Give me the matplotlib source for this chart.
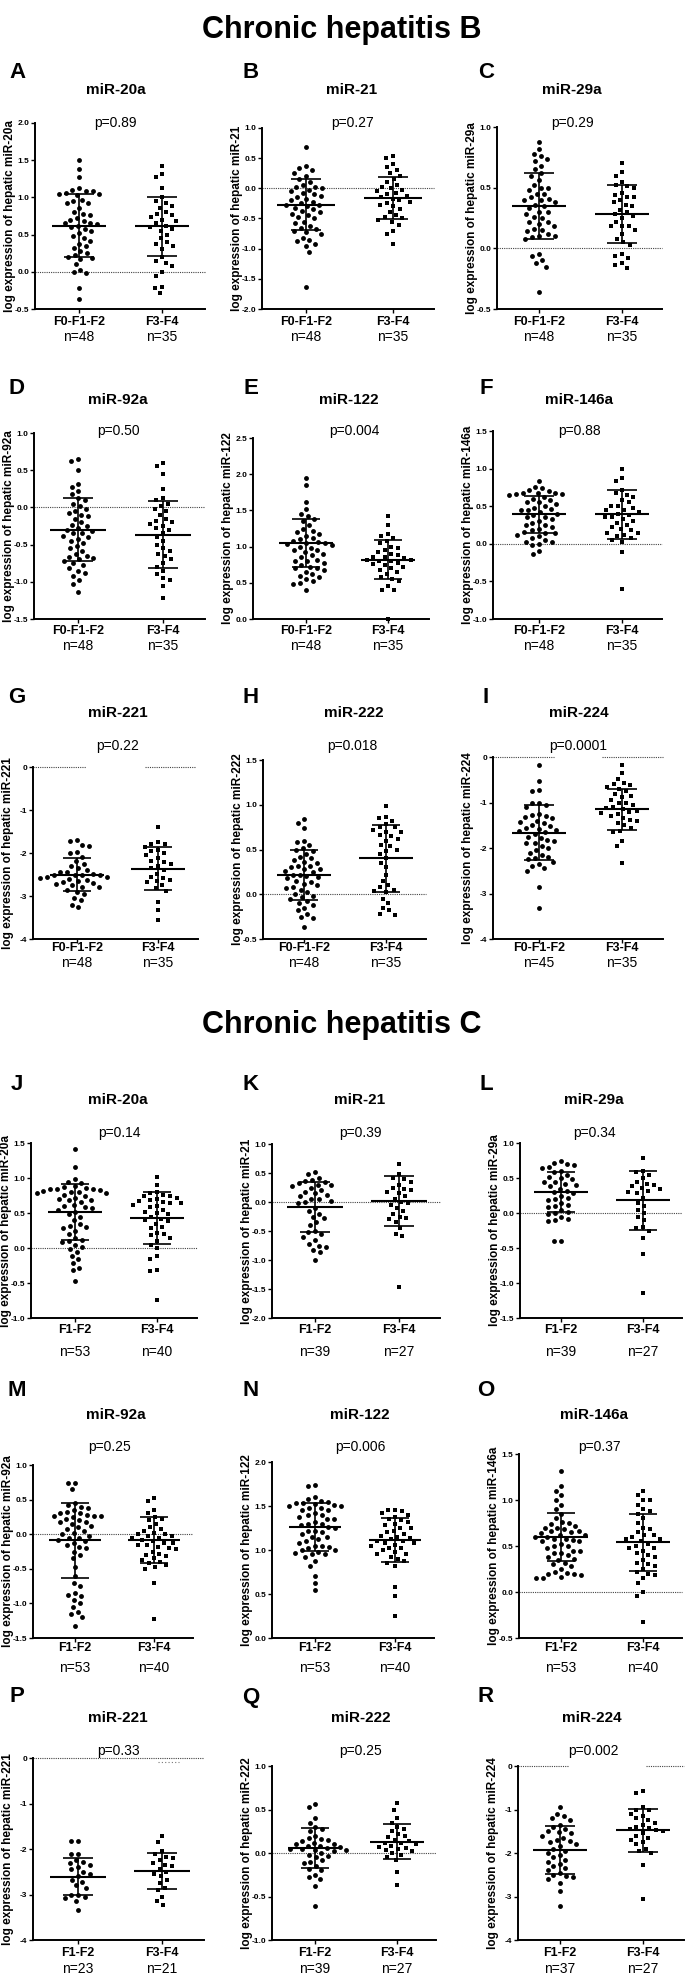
import numpy as np
import matplotlib
matplotlib.use('Agg')
import matplotlib.pyplot as plt

W, H, DPI = 685, 1976, 100

NARROW = ['Liberation Sans Narrow', 'Liberation Sans', 'DejaVu Sans']
REG = ['Liberation Sans', 'DejaVu Sans']

# ---------------- data ----------------
section_titles = ['Chronic hepatitis B', 'Chronic hepatitis C']
panel_letters = list("ABCDEFGHIJKLMNOPQR")
mirnas = ['miR-20a', 'miR-21', 'miR-29a', 'miR-92a', 'miR-122', 'miR-146a',
          'miR-221', 'miR-222', 'miR-224',
          'miR-20a', 'miR-21', 'miR-29a', 'miR-92a', 'miR-122', 'miR-146a',
          'miR-221', 'miR-222', 'miR-224']
p_values = ['p=0.89', 'p=0.27', 'p=0.29', 'p=0.50', 'p=0.004', 'p=0.88',
            'p=0.22', 'p=0.018', 'p=0.0001',
            'p=0.14', 'p=0.39', 'p=0.34', 'p=0.25', 'p=0.006', 'p=0.37',
            'p=0.33', 'p=0.25', 'p=0.002']
groups_hbv = ['F0-F1-F2', 'F3-F4']
groups_hcv = ['F1-F2', 'F3-F4']
n_low = ['n=48'] * 8 + ['n=45', 'n=53', 'n=39', 'n=39', 'n=53', 'n=53', 'n=53', 'n=23', 'n=39', 'n=37']
n_high = ['n=35'] * 9 + ['n=40', 'n=27', 'n=27', 'n=40', 'n=40', 'n=40', 'n=21', 'n=27', 'n=27']
y_min = [-0.5, -2.0, -0.5, -1.5, 0.0, -1.0, -4, -0.5, -4,
         -1.0, -2.0, -1.5, -1.5, 0.0, -0.5, -4, -1.0, -4]
y_max = [2.0, 1.0, 1.0, 1.0, 2.5, 1.5, 0, 1.5, 0,
         1.5, 1.0, 1.0, 1.0, 2.0, 1.5, 0, 1.0, 0]
y_step = [0.5] * 6 + [1, 0.5, 1] + [0.5] * 6 + [1, 0.5, 1]

means_low = [0.62, -0.27, 0.35, -0.30, 1.05, 0.39, -2.50, 0.22, -1.66,
             0.52, -0.08, 0.30, -0.09, 1.26, 0.60, -2.61, 0.06, -1.93]
sd_low = [0.42, 0.42, 0.27, 0.42, 0.33, 0.25, 0.38, 0.28, 0.61,
          0.40, 0.43, 0.29, 0.54, 0.27, 0.26, 0.41, 0.23, 0.56]
means_high = [0.61, -0.16, 0.28, -0.37, 0.82, 0.39, -2.37, 0.40, -1.15,
              0.43, 0.01, 0.18, -0.08, 1.11, 0.54, -2.48, 0.13, -1.48]
sd_high = [0.40, 0.35, 0.24, 0.45, 0.27, 0.33, 0.50, 0.37, 0.45,
           0.37, 0.43, 0.42, 0.33, 0.25, 0.31, 0.40, 0.20, 0.50]

A_low = [1.50, 1.38, 1.28, 1.12, 1.10, 1.09, 1.08, 1.06, 1.05, 1.04, 1.03, 0.96, 0.95, 0.93, 0.92, 0.86,
         0.80, 0.78, 0.76, 0.72, 0.70, 0.68, 0.66, 0.65, 0.64, 0.62, 0.60, 0.58, 0.55, 0.52, 0.48, 0.45,
         0.42, 0.38, 0.35, 0.32, 0.28, 0.25, 0.22, 0.20, 0.19, 0.17, 0.10, 0.03, 0.00, -0.02, -0.22, -0.36]
A_high = [1.42, 1.32, 1.27, 1.12, 1.00, 0.95, 0.92, 0.88, 0.86, 0.80, 0.78, 0.76, 0.73, 0.70, 0.68, 0.65,
          0.62, 0.60, 0.58, 0.55, 0.50, 0.45, 0.40, 0.38, 0.35, 0.30, 0.20, 0.15, 0.12, 0.08, 0.00, -0.05,
          -0.20, -0.22, -0.29]
B_low = [0.68, 0.37, 0.33, 0.30, 0.26, 0.20, 0.16, 0.10, 0.05, 0.03, 0.02, 0.00, -0.02, -0.05, -0.08, -0.10,
         -0.12, -0.15, -0.18, -0.20, -0.22, -0.25, -0.27, -0.28, -0.30, -0.32, -0.35, -0.38, -0.40, -0.42,
         -0.45, -0.48, -0.50, -0.55, -0.58, -0.62, -0.65, -0.68, -0.70, -0.72, -0.75, -0.82, -0.85, -0.88,
         -0.92, -0.95, -1.05, -1.64]
B_high = [0.53, 0.50, 0.40, 0.35, 0.30, 0.25, 0.20, 0.15, 0.10, 0.05, 0.03, 0.00, -0.03, -0.05, -0.08, -0.10,
          -0.12, -0.15, -0.18, -0.20, -0.22, -0.25, -0.28, -0.30, -0.35, -0.40, -0.45, -0.48, -0.50, -0.52,
          -0.55, -0.60, -0.70, -0.75, -0.92]
C_low = [0.88, 0.82, 0.78, 0.76, 0.74, 0.72, 0.68, 0.65, 0.62, 0.60, 0.56, 0.52, 0.50, 0.50, 0.48, 0.45,
         0.45, 0.42, 0.41, 0.40, 0.40, 0.38, 0.36, 0.35, 0.33, 0.30, 0.30, 0.28, 0.26, 0.25, 0.22, 0.22,
         0.20, 0.18, 0.16, 0.15, 0.14, 0.12, 0.10, 0.10, 0.09, 0.08, -0.05, -0.06, -0.10, -0.12, -0.15, -0.36]
C_high = [0.70, 0.63, 0.60, 0.55, 0.52, 0.51, 0.50, 0.46, 0.44, 0.42, 0.42, 0.40, 0.38, 0.36, 0.35, 0.32,
          0.30, 0.28, 0.27, 0.25, 0.22, 0.18, 0.18, 0.18, 0.15, 0.12, 0.08, 0.05, 0.03, -0.05, -0.06, -0.08,
          -0.12, -0.14, -0.16]
D_low = [0.65, 0.63, 0.50, 0.32, 0.28, 0.22, 0.18, 0.12, 0.10, 0.05, 0.02, -0.02, -0.05, -0.08, -0.10, -0.12,
         -0.15, -0.20, -0.23, -0.25, -0.28, -0.30, -0.32, -0.35, -0.35, -0.38, -0.40, -0.42, -0.45, -0.48,
         -0.52, -0.55, -0.58, -0.62, -0.65, -0.66, -0.68, -0.70, -0.72, -0.75, -0.78, -0.82, -0.85, -0.88,
         -0.92, -0.98, -1.03, -1.14]
D_high = [0.60, 0.55, 0.45, 0.25, 0.12, 0.10, 0.05, 0.02, -0.02, -0.05, -0.10, -0.15, -0.18, -0.20, -0.22,
          -0.25, -0.28, -0.30, -0.35, -0.40, -0.45, -0.50, -0.55, -0.58, -0.62, -0.65, -0.70, -0.75, -0.80,
          -0.85, -0.90, -0.95, -0.98, -1.05, -1.22]
E_low = [1.95, 1.85, 1.62, 1.52, 1.45, 1.42, 1.38, 1.35, 1.30, 1.25, 1.22, 1.20, 1.18, 1.15, 1.12, 1.10,
         1.08, 1.06, 1.05, 1.05, 1.04, 1.02, 1.00, 0.98, 0.95, 0.95, 0.92, 0.90, 0.88, 0.85, 0.82, 0.80,
         0.80, 0.78, 0.75, 0.72, 0.70, 0.70, 0.68, 0.65, 0.62, 0.60, 0.58, 0.55, 0.52, 0.50, 0.48, 0.40]
E_high = [1.42, 1.30, 1.18, 1.15, 1.12, 1.08, 1.05, 1.00, 0.98, 0.95, 0.92, 0.90, 0.88, 0.86, 0.85, 0.84,
          0.82, 0.82, 0.80, 0.80, 0.78, 0.76, 0.75, 0.72, 0.70, 0.68, 0.65, 0.62, 0.58, 0.55, 0.52, 0.45,
          0.40, 0.40, 0.00]
F_low = [0.84, 0.76, 0.74, 0.72, 0.70, 0.68, 0.67, 0.67, 0.66, 0.66, 0.65, 0.62, 0.60, 0.58, 0.55, 0.55,
         0.53, 0.50, 0.48, 0.46, 0.45, 0.45, 0.42, 0.40, 0.38, 0.36, 0.35, 0.33, 0.30, 0.28, 0.25, 0.25,
         0.22, 0.20, 0.18, 0.16, 0.15, 0.14, 0.12, 0.10, 0.08, 0.05, 0.03, 0.02, 0.00, -0.02, -0.10, -0.14]
F_high = [1.00, 0.88, 0.84, 0.72, 0.68, 0.65, 0.62, 0.58, 0.55, 0.50, 0.50, 0.48, 0.45, 0.45, 0.42, 0.40,
          0.38, 0.36, 0.35, 0.33, 0.30, 0.28, 0.25, 0.22, 0.20, 0.18, 0.15, 0.15, 0.12, 0.10, 0.08, 0.05,
          0.02, -0.11, -0.60]
G_low = [-1.70, -1.73, -1.82, -1.84, -1.98, -2.00, -2.10, -2.18, -2.25, -2.30, -2.35, -2.40, -2.44, -2.45,
         -2.48, -2.50, -2.50, -2.52, -2.52, -2.55, -2.55, -2.58, -2.60, -2.62, -2.65, -2.68, -2.70, -2.72,
         -2.75, -2.78, -2.80, -2.85, -2.90, -2.95, -3.05, -3.10, -3.20, -3.25]
G_high = [-1.40, -1.75, -1.78, -1.80, -1.85, -1.92, -1.95, -2.00, -2.05, -2.12, -2.18, -2.20, -2.25, -2.30,
          -2.35, -2.40, -2.48, -2.55, -2.58, -2.62, -2.65, -2.68, -2.75, -2.82, -2.88, -3.15, -3.32, -3.55]
H_low = [0.84, 0.80, 0.74, 0.60, 0.58, 0.55, 0.52, 0.50, 0.48, 0.45, 0.42, 0.40, 0.38, 0.36, 0.35, 0.32,
         0.32, 0.30, 0.28, 0.28, 0.26, 0.25, 0.22, 0.22, 0.20, 0.19, 0.18, 0.15, 0.14, 0.12, 0.10, 0.08,
         0.07, 0.05, 0.02, 0.00, -0.02, -0.03, -0.05, -0.08, -0.10, -0.12, -0.15, -0.18, -0.22, -0.25,
         -0.26, -0.37]
H_high = [0.99, 0.86, 0.85, 0.82, 0.78, 0.75, 0.75, 0.72, 0.70, 0.70, 0.66, 0.65, 0.62, 0.60, 0.55, 0.54,
          0.50, 0.48, 0.45, 0.40, 0.35, 0.30, 0.22, 0.15, 0.10, 0.08, 0.05, 0.04, 0.02, -0.05, -0.10, -0.15,
          -0.18, -0.22, -0.23]
I_low = [-0.17, -0.52, -0.73, -0.75, -1.00, -1.02, -1.05, -1.10, -1.25, -1.27, -1.30, -1.32, -1.35, -1.40,
         -1.42, -1.45, -1.50, -1.52, -1.55, -1.58, -1.60, -1.62, -1.65, -1.70, -1.75, -1.78, -1.82, -1.85,
         -1.88, -1.90, -1.95, -2.00, -2.05, -2.10, -2.15, -2.20, -2.22, -2.25, -2.30, -2.35, -2.40, -2.45,
         -2.50, -2.85, -3.32]
I_high = [-0.17, -0.35, -0.48, -0.58, -0.60, -0.62, -0.65, -0.70, -0.75, -0.82, -0.85, -0.88, -0.95, -1.00,
          -1.02, -1.05, -1.10, -1.12, -1.15, -1.18, -1.20, -1.22, -1.25, -1.30, -1.35, -1.38, -1.40, -1.45,
          -1.50, -1.55, -1.62, -1.65, -1.85, -1.95, -2.32]
J_low = [1.42, 1.16, 0.98, 0.95, 0.93, 0.88, 0.87, 0.86, 0.85, 0.85, 0.84, 0.83, 0.82, 0.80, 0.80, 0.79,
         0.78, 0.76, 0.75, 0.72, 0.70, 0.69, 0.68, 0.66, 0.62, 0.60, 0.58, 0.57, 0.55, 0.52, 0.48, 0.45,
         0.40, 0.35, 0.32, 0.30, 0.28, 0.25, 0.20, 0.15, 0.12, 0.10, 0.08, 0.05, 0.02, -0.02, -0.05, -0.12,
         -0.15, -0.22, -0.28, -0.32, -0.47]
J_high = [1.02, 0.90, 0.80, 0.78, 0.76, 0.75, 0.74, 0.72, 0.70, 0.68, 0.67, 0.66, 0.65, 0.64, 0.62, 0.60,
          0.58, 0.55, 0.52, 0.50, 0.48, 0.45, 0.42, 0.40, 0.38, 0.35, 0.30, 0.28, 0.22, 0.20, 0.18, 0.15,
          0.10, 0.05, 0.00, -0.12, -0.15, -0.32, -0.33, -0.74]
K_low = [0.52, 0.48, 0.42, 0.38, 0.36, 0.35, 0.33, 0.30, 0.30, 0.28, 0.25, 0.20, 0.18, 0.15, 0.12, 0.10,
         0.05, 0.05, 0.02, 0.00, -0.02, -0.10, -0.15, -0.20, -0.25, -0.28, -0.35, -0.40, -0.50, -0.52,
         -0.55, -0.60, -0.65, -0.72, -0.75, -0.78, -0.82, -0.87, -1.00]
K_high = [0.65, 0.48, 0.42, 0.40, 0.35, 0.30, 0.25, 0.22, 0.20, 0.18, 0.15, 0.10, 0.05, 0.00, -0.02, -0.05,
          -0.10, -0.15, -0.20, -0.25, -0.28, -0.30, -0.35, -0.45, -0.55, -0.58, -1.47]
L_low = [0.74, 0.72, 0.70, 0.68, 0.66, 0.65, 0.60, 0.58, 0.55, 0.52, 0.50, 0.48, 0.45, 0.45, 0.42, 0.40,
         0.38, 0.35, 0.32, 0.30, 0.28, 0.25, 0.22, 0.20, 0.18, 0.15, 0.12, 0.10, 0.08, 0.05, 0.02, 0.00,
         -0.02, -0.05, -0.08, -0.10, -0.12, -0.40, -0.40]
L_high = [0.78, 0.60, 0.58, 0.55, 0.50, 0.45, 0.42, 0.40, 0.38, 0.36, 0.35, 0.32, 0.30, 0.28, 0.22, 0.15,
          0.10, 0.05, 0.00, -0.05, -0.10, -0.20, -0.22, -0.25, -0.35, -0.58, -1.14]
M_low = [0.74, 0.74, 0.65, 0.45, 0.42, 0.40, 0.38, 0.35, 0.32, 0.30, 0.30, 0.28, 0.27, 0.27, 0.26, 0.25,
         0.22, 0.20, 0.18, 0.18, 0.15, 0.12, 0.10, 0.08, 0.05, 0.02, 0.00, -0.02, -0.05, -0.05, -0.08, -0.10,
         -0.12, -0.15, -0.18, -0.20, -0.25, -0.30, -0.35, -0.48, -0.60, -0.70, -0.75, -0.85, -0.88, -0.90,
         -0.95, -1.00, -1.05, -1.12, -1.15, -1.20, -1.33]
M_high = [0.52, 0.48, 0.35, 0.30, 0.25, 0.22, 0.20, 0.15, 0.10, 0.08, 0.05, 0.02, 0.00, 0.00, -0.02, -0.03,
          -0.05, -0.06, -0.08, -0.10, -0.12, -0.12, -0.15, -0.16, -0.18, -0.20, -0.22, -0.25, -0.28, -0.30,
          -0.32, -0.35, -0.38, -0.40, -0.42, -0.45, -0.48, -0.50, -0.70, -1.22]
N_low = [1.74, 1.73, 1.60, 1.58, 1.56, 1.55, 1.53, 1.53, 1.52, 1.51, 1.50, 1.50, 1.48, 1.48, 1.45, 1.45,
         1.42, 1.40, 1.40, 1.38, 1.35, 1.35, 1.32, 1.30, 1.30, 1.28, 1.26, 1.25, 1.22, 1.22, 1.20, 1.18,
         1.15, 1.15, 1.12, 1.10, 1.08, 1.05, 1.05, 1.03, 1.02, 1.00, 1.00, 0.98, 0.97, 0.96, 0.95, 0.92,
         0.88, 0.82, 0.70, 0.62, 0.54]
N_high = [1.46, 1.45, 1.44, 1.42, 1.40, 1.38, 1.35, 1.34, 1.32, 1.30, 1.28, 1.25, 1.25, 1.22, 1.20, 1.18,
          1.16, 1.15, 1.14, 1.12, 1.10, 1.10, 1.08, 1.08, 1.06, 1.05, 1.02, 1.02, 1.00, 0.98, 0.96, 0.95,
          0.92, 0.90, 0.88, 0.85, 0.82, 0.58, 0.48, 0.25]
O_low = [1.32, 1.15, 1.10, 1.05, 1.00, 0.95, 0.90, 0.85, 0.80, 0.76, 0.75, 0.74, 0.72, 0.70, 0.70, 0.68,
         0.66, 0.66, 0.65, 0.64, 0.62, 0.62, 0.60, 0.60, 0.58, 0.58, 0.56, 0.55, 0.55, 0.52, 0.50, 0.50,
         0.48, 0.45, 0.45, 0.42, 0.42, 0.40, 0.38, 0.36, 0.35, 0.32, 0.30, 0.28, 0.25, 0.22, 0.21, 0.20,
         0.20, 0.18, 0.16, 0.15, 0.15]
O_high = [1.10, 1.05, 1.00, 1.00, 0.95, 0.90, 0.88, 0.85, 0.80, 0.75, 0.70, 0.68, 0.65, 0.62, 0.62, 0.60,
          0.58, 0.58, 0.55, 0.52, 0.50, 0.48, 0.48, 0.45, 0.42, 0.40, 0.38, 0.35, 0.32, 0.30, 0.28, 0.25,
          0.22, 0.20, 0.18, 0.15, 0.10, 0.00, -0.04, -0.33]
P_low = [-1.83, -1.83, -2.10, -2.12, -2.25, -2.28, -2.30, -2.35, -2.40, -2.45, -2.50, -2.55, -2.60, -2.68,
         -2.72, -2.80, -2.85, -3.00, -3.02, -3.05, -3.08, -3.15, -3.33]
P_high = [-1.72, -1.85, -2.05, -2.10, -2.18, -2.20, -2.25, -2.30, -2.35, -2.38, -2.45, -2.50, -2.55, -2.60,
          -2.68, -2.75, -2.85, -2.90, -3.05, -3.15, -3.22]
Q_low = [0.56, 0.53, 0.40, 0.35, 0.30, 0.28, 0.25, 0.20, 0.17, 0.16, 0.15, 0.14, 0.12, 0.10, 0.10, 0.08,
         0.08, 0.07, 0.06, 0.05, 0.05, 0.04, 0.03, 0.02, 0.00, -0.02, -0.03, -0.05, -0.08, -0.10, -0.12,
         -0.15, -0.18, -0.20, -0.25, -0.28, -0.30, -0.38, -0.61]
Q_high = [0.57, 0.50, 0.40, 0.35, 0.30, 0.28, 0.25, 0.22, 0.20, 0.18, 0.15, 0.14, 0.12, 0.11, 0.10, 0.08,
          0.07, 0.06, 0.05, 0.03, 0.02, 0.00, -0.02, -0.05, -0.08, -0.22, -0.37]
R_low = [-0.95, -1.10, -1.15, -1.20, -1.25, -1.35, -1.40, -1.45, -1.50, -1.52, -1.55, -1.60, -1.65, -1.70,
         -1.72, -1.75, -1.80, -1.85, -1.90, -1.95, -2.00, -2.05, -2.10, -2.15, -2.20, -2.25, -2.30, -2.35,
         -2.40, -2.45, -2.50, -2.52, -2.55, -2.60, -2.70, -2.88, -3.22]
R_high = [-0.58, -0.62, -0.95, -1.00, -1.02, -1.10, -1.15, -1.20, -1.25, -1.30, -1.35, -1.40, -1.42, -1.45,
          -1.48, -1.50, -1.55, -1.60, -1.65, -1.70, -1.75, -1.80, -1.90, -1.95, -2.00, -2.28, -3.05]

low_series = [A_low, B_low, C_low, D_low, E_low, F_low, G_low, H_low, I_low,
              J_low, K_low, L_low, M_low, N_low, O_low, P_low, Q_low, R_low]
high_series = [A_high, B_high, C_high, D_high, E_high, F_high, G_high, H_high, I_high,
               J_high, K_high, L_high, M_high, N_high, O_high, P_high, Q_high, R_high]

# ---------------- layout (pixels) ----------------
# left, right, top, bottom, category-1 x, category-2 x
axes_px = [
    (35, 205, 123, 309, 79, 162), (262, 434, 128, 309, 306, 393), (497, 662, 127, 309, 539, 622),
    (34, 205, 433, 619, 78, 163), (253, 429, 438, 619, 306, 388), (493, 662, 431, 619, 539, 622),
    (33, 198, 767, 939, 77, 158), (263, 426, 760, 939, 304, 386), (493, 663, 757, 939, 539, 622),
    (31, 197, 1143, 1318, 75, 157), (272, 440, 1144, 1318, 315, 399), (520, 682, 1143, 1318, 561, 643),
    (33, 193, 1465, 1638, 75, 154), (272, 434, 1462, 1638, 315, 395), (519, 682, 1454, 1638, 561, 643),
    (33, 204, 1758, 1940, 78, 162), (272, 436, 1766, 1940, 315, 397), (518, 684, 1766, 1940, 560, 643),
]
# letter y, subtitle y, p y, xtick y, n y  per row
row_text_y = [(72, 90, 123, 322, 337), (388, 400, 431, 631, 646), (697, 713, 746, 948, 963),
              (1085, 1100, 1133, 1330, 1352), (1390, 1415, 1447, 1648, 1668), (1697, 1718, 1751, 1953, 1969)]
col_letter_x = [17, 251, 486]
sub_x = [(116, 352, 572), (118, 349, 579), (118, 354, 579),
         (118, 360, 594), (116, 360, 594), (118, 361, 592)]
p_x = [(115, 353, 572), (118, 354, 579), (118, 352, 578),
       (119, 360, 594), (110, 360, 599), (118, 361, 593)]
# split zero lines (axes fraction segments)
zero_segments = {6: [(0, 0.32), (0.68, 0.99)], 8: [(0, 0.36), (0.64, 1.0)],
                 17: [(0, 0.31), (0.77, 1.0)]}

fig = plt.figure(figsize=(W / DPI, H / DPI), dpi=DPI)
fig.patch.set_facecolor('white')


def fx(x):
    return x / W


def fy(y):
    return 1 - y / H


fig.text(fx(342), fy(30), section_titles[0], ha='center', va='center',
         fontsize=22, fontweight='bold', family=NARROW)
fig.text(fx(342), fy(1025), section_titles[1], ha='center', va='center',
         fontsize=22, fontweight='bold', family=NARROW)

DIAM = 7.0  # pixel spacing for swarm


def swarm(ypix, d):
    order = np.argsort(-np.asarray(ypix))
    placed = []
    xs = np.zeros(len(ypix))
    for i in order:
        y = ypix[i]
        near = [(px, py) for px, py in placed if abs(py - y) < d]
        cands = [0.0]
        for px, py in near:
            dx = np.sqrt(d * d - (py - y) ** 2)
            cands += [px - dx, px + dx]
        cands = sorted(cands, key=lambda c: (abs(c), c))
        for c in cands:
            if all((c - px) ** 2 + (y - py) ** 2 >= d * d - 1e-6 for px, py in near):
                xs[i] = c
                break
        placed.append((xs[i], y))
    return xs


for k in range(18):
    L, R, T, B, c1, c2 = axes_px[k]
    row, col = divmod(k, 3)
    ax = fig.add_axes([fx(L), fy(B), (R - L) / W, (B - T) / H])
    s = c2 - c1
    x0 = 1 - (c1 - L) / s
    x1 = 2 + (R - c2) / s
    lo, hi = y_min[k], y_max[k]
    ax.set_xlim(x0, x1)
    ax.set_ylim(lo, hi)
    hpx = B - T
    for gi, (vals, marker, ms) in enumerate([(low_series[k], 'o', 3.5), (high_series[k], 's', 3.2)]):
        v = np.asarray(vals, float)
        ypix = (v - lo) / (hi - lo) * hpx
        offs = swarm(ypix, DIAM) / s
        ax.plot(gi + 1 + offs, v, linestyle='none', marker=marker, ms=ms,
                color='black', mec='black', mew=0, zorder=3, clip_on=False)
        m = [means_low, means_high][gi][k]
        sd = [sd_low, sd_high][gi][k]
        cx = gi + 1
        ax.hlines(m, cx - 0.33, cx + 0.33, color='black', lw=1.5, zorder=4)
        ax.vlines(cx, m - sd, m + sd, color='black', lw=1.2, zorder=4)
        ax.hlines([m - sd, m + sd], cx - 0.175, cx + 0.175, color='black', lw=1.2, zorder=4)
    # zero line
    if lo < 0 <= hi:
        segs = zero_segments.get(k, [(0, 1)])
        for a, b in segs:
            ax.plot([x0 + a * (x1 - x0), x0 + b * (x1 - x0)], [0, 0], ls=(0, (1, 1)),
                    color='#444444', lw=0.8, zorder=2, clip_on=False)
        if k == 15:
            ax.plot([1.95, 2.2], [-0.08, -0.08], ls=(0, (1, 2)), color='#777777', lw=0.8)
    for sp in ['top', 'right']:
        ax.spines[sp].set_visible(False)
    for sp in ['left', 'bottom']:
        ax.spines[sp].set_linewidth(1.4)
    ticks = np.arange(lo, hi + 1e-9, y_step[k])
    ax.set_yticks(ticks)
    if y_step[k] >= 1:
        ax.set_yticklabels(['%d' % round(t) for t in ticks])
    else:
        ax.set_yticklabels(['%.1f' % t for t in ticks])
    ax.tick_params(axis='y', length=3, width=1, pad=1, labelsize=6)
    for lab in ax.get_yticklabels():
        lab.set_family(NARROW)
        lab.set_fontweight('bold')
    ax.set_xticks([1, 2])
    ax.set_xticklabels([])
    ax.tick_params(axis='x', length=3, width=1)
    ax.patch.set_alpha(0)

    ly, sy, py, ty, ny = row_text_y[row]
    fig.text(fx(col_letter_x[col]), fy(ly), panel_letters[k], ha='center', va='center',
             fontsize=16, fontweight='bold', family=NARROW)
    fig.text(fx(sub_x[row][col]), fy(sy), mirnas[k], ha='center', va='center',
             fontsize=11, fontweight='bold', family=NARROW)
    fig.text(fx(p_x[row][col]), fy(py), p_values[k], ha='center', va='center',
             fontsize=10, family=NARROW)
    glabels = groups_hbv if k < 9 else groups_hcv
    for cx_px, gl, nl in [(c1, glabels[0], n_low[k]), (c2, glabels[1], n_high[k])]:
        fig.text(fx(cx_px), fy(ty), gl, ha='center', va='center', fontsize=9,
                 fontweight='bold', family=NARROW)
        fig.text(fx(cx_px), fy(ny), nl, ha='center', va='center', fontsize=10, family=NARROW)
    fig.text(fx(L - 25), fy((T + B) / 2), 'log expression of hepatic ' + mirnas[k],
             ha='center', va='center', rotation=90, fontsize=8.5, fontweight='bold', family=REG)

fig.savefig('out.png', dpi=DPI, facecolor='white')
